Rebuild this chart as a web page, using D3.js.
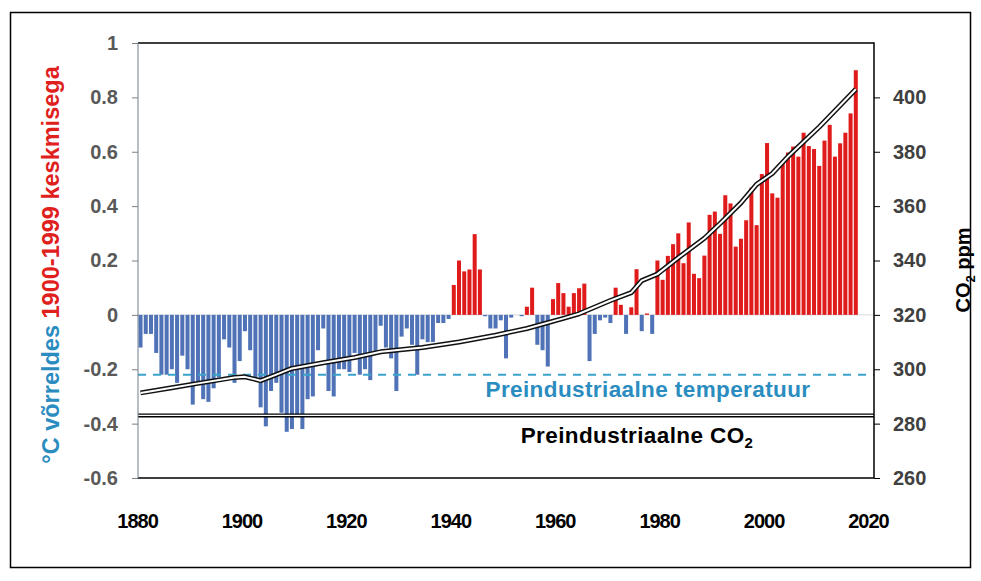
<!DOCTYPE html>
<html>
<head>
<meta charset="utf-8">
<script src="https://cdn.jsdelivr.net/npm/d3@7"></script>
<style>
  body { margin: 0; background: #fff; }
  svg { display: block; }
  text { font-family: "Liberation Sans", Arial, sans-serif; font-weight: bold; }
</style>
</head>
<body>
<svg id="chart" width="981" height="581"></svg>
<script>
// Annual global temperature anomaly (°C vs. 1900-1999 mean), one value per year from firstYear
const firstYear = 1880;
const anomalies = [
  -0.12, -0.07, -0.07, -0.14, -0.22, -0.22, -0.20, -0.25, -0.15, -0.20,   // 1880s
  -0.33, -0.25, -0.31, -0.32, -0.27, -0.23, -0.09, -0.12, -0.25, -0.17,   // 1890s
  -0.06, -0.13, -0.24, -0.34, -0.41, -0.28, -0.25, -0.36, -0.43, -0.42,   // 1900s
  -0.37, -0.42, -0.31, -0.30, -0.13, -0.05, -0.28, -0.30, -0.20, -0.20,   // 1910s
  -0.21, -0.14, -0.22, -0.20, -0.24, -0.14, -0.04, -0.12, -0.16, -0.28,   // 1920s
  -0.08, -0.05, -0.11, -0.22, -0.09, -0.10, -0.10, -0.03, -0.03, -0.015,  // 1930s
   0.11,  0.20,  0.16,  0.167, 0.297, 0.167, -0.005, -0.05, -0.05, -0.02, // 1940s
  -0.16, -0.01,  0.00, -0.005, 0.03,  0.10, -0.11, -0.13, -0.19,  0.058,  // 1950s
   0.117, 0.08,  0.03,  0.08,  0.098, 0.115, -0.17, -0.07, -0.02, -0.01,  // 1960s
  -0.03,  0.10,  0.037, -0.07, 0.028, 0.168, -0.06, 0.005, -0.07, 0.20,   // 1970s
   0.129, 0.217, 0.26,  0.30,  0.19,  0.34,  0.151, 0.135, 0.218, 0.368,  // 1980s
   0.38,  0.298, 0.44,  0.41,  0.251, 0.28,  0.348, 0.468, 0.33,  0.518,  // 1990s
   0.632, 0.447, 0.431, 0.56,  0.597, 0.619, 0.582, 0.67,  0.621, 0.61,   // 2000s
   0.548, 0.641, 0.699, 0.582, 0.631, 0.67,  0.741, 0.90                  // 2010s
];

// Atmospheric CO2 concentration (ppm)
const co2Years  = [1880, 1886, 1891, 1898, 1900, 1903, 1906, 1909, 1915, 1921, 1926, 1934, 1941, 1948, 1954,
                   1961, 1964, 1970, 1974, 1976, 1979, 1983, 1988, 1991, 1995, 1998, 2001, 2004, 2010, 2017];
const co2Values = [291.3, 293.2, 294.8, 297.0, 297.2, 295.8, 298.0, 300.3, 302.4, 304.3, 306.4, 308.0, 310.0, 312.5, 315.0,
                   318.7, 320.4, 325.3, 328.2, 332.6, 335.0, 341.0, 348.2, 353.6, 361.2, 368.0, 372.0, 378.2, 389.1, 403.0];

// Reference levels
const preindustrialTemp = -0.22;
const preindustrialCO2 = 283;

// Axis ticks
const yearTicks = [1880, 1900, 1920, 1940, 1960, 1980, 2000, 2020];
const tempTicks = [-0.6, -0.4, -0.2, 0, 0.2, 0.4, 0.6, 0.8, 1];
const co2Ticks  = [260, 280, 300, 320, 340, 360, 380, 400];

const svg = d3.select("#chart");
const plot = { left: 138, right: 874, top: 43, bottom: 478 };
const FONT = '"Liberation Sans", Arial, sans-serif';

// outer frame
svg.append("rect")
  .attr("x", 10.5).attr("y", 12.5).attr("width", 960).attr("height", 555)
  .attr("fill", "#fff").attr("stroke", "#000").attr("stroke-width", 1.5);

const x = d3.scaleBand()
  .domain(d3.range(yearTicks[0], yearTicks[yearTicks.length - 1] + 1))
  .range([plot.left, plot.right])
  .paddingInner(0.23)
  .paddingOuter(0.1);
const half = x.bandwidth() / 2;
const xc = year => x(year) + half;

const yT = d3.scaleLinear().domain([-0.6, 1]).range([plot.bottom, plot.top]);
const yC = d3.scaleLinear().domain([260, 420]).range([plot.bottom, plot.top]);

// zero line
svg.append("line")
  .attr("x1", plot.left).attr("x2", plot.right)
  .attr("y1", yT(0)).attr("y2", yT(0))
  .attr("stroke", "#d9d9d9").attr("stroke-width", 1);

// temperature bars
const bars = anomalies.map((v, i) => ({ year: firstYear + i, value: v }));
svg.append("g").selectAll("rect")
  .data(bars)
  .join("rect")
  .attr("x", d => x(d.year))
  .attr("width", x.bandwidth())
  .attr("y", d => yT(Math.max(0, d.value)))
  .attr("height", d => Math.abs(yT(d.value) - yT(0)))
  .attr("fill", d => d.value >= 0 ? "#e01b1b" : "#4f73b6");

// preindustrial temperature (dashed)
svg.append("line")
  .attr("x1", plot.left).attr("x2", plot.right)
  .attr("y1", yT(preindustrialTemp)).attr("y2", yT(preindustrialTemp))
  .attr("stroke", "#3aa3cc").attr("stroke-width", 2)
  .attr("stroke-dasharray", "8,7");

// preindustrial CO2 (double line)
[["#000", 4], ["#fff", 1.2]].forEach(([c, w]) => {
  svg.append("line")
    .attr("x1", plot.left).attr("x2", plot.right)
    .attr("y1", yC(preindustrialCO2)).attr("y2", yC(preindustrialCO2))
    .attr("stroke", c).attr("stroke-width", w);
});

// CO2 curve (double line)
const co2 = co2Years.map((yr, i) => ({ year: yr, ppm: co2Values[i] }));
const line = d3.line().x(d => xc(d.year)).y(d => yC(d.ppm));
[["#111", 5], ["#fff", 2]].forEach(([c, w]) => {
  svg.append("path").datum(co2)
    .attr("d", line).attr("fill", "none")
    .attr("stroke", c).attr("stroke-width", w)
    .attr("stroke-linejoin", "round");
});

// plot frame
svg.append("path")
  .attr("d", `M${plot.left},${plot.top}H${plot.right}V${plot.bottom}H${plot.left}`)
  .attr("fill", "none").attr("stroke", "#000").attr("stroke-width", 1.5);
svg.append("line")
  .attr("x1", plot.left).attr("x2", plot.left)
  .attr("y1", plot.top).attr("y2", plot.bottom)
  .attr("stroke", "#6f7f8f").attr("stroke-width", 1);

// left axis
const leftAxis = d3.axisLeft(yT).tickValues(tempTicks).tickSize(6).tickPadding(14)
  .tickFormat(d => String(+d.toFixed(1)));
const gl = svg.append("g").attr("transform", `translate(${plot.left},0)`).call(leftAxis);
gl.select(".domain").remove();
gl.selectAll(".tick line").attr("stroke", "#7f7f7f");
gl.selectAll(".tick text").attr("fill", "#595959").style("font-size", "20px")
  .style("font-family", FONT).style("font-weight", "bold");

// right axis
const rightAxis = d3.axisRight(yC).tickValues(co2Ticks).tickSize(6).tickPadding(13);
const gr = svg.append("g").attr("transform", `translate(${plot.right},0)`).call(rightAxis);
gr.select(".domain").remove();
gr.selectAll(".tick line").attr("stroke", "#000");
gr.selectAll(".tick text").attr("fill", "#404040").style("font-size", "20px")
  .style("font-family", FONT).style("font-weight", "bold");

// year labels
svg.append("g").selectAll("text")
  .data(yearTicks)
  .join("text")
  .attr("x", d => xc(d) - 3)
  .attr("y", 528)
  .attr("text-anchor", "middle")
  .style("font-size", "20px")
  .style("letter-spacing", "-1px")
  .attr("fill", "#000")
  .text(d => d);

// reference labels
svg.append("text")
  .attr("x", 648).attr("y", 397)
  .attr("text-anchor", "middle")
  .attr("fill", "#2b8cbf")
  .style("font-size", "22.5px")
  .style("letter-spacing", "0.4px")
  .text("Preindustriaalne temperatuur");

const lbl = svg.append("text")
  .attr("x", 637).attr("y", 443)
  .attr("text-anchor", "middle")
  .attr("fill", "#000")
  .style("font-size", "22.5px")
  .style("letter-spacing", "0.4px");
lbl.append("tspan").text("Preindustriaalne CO");
lbl.append("tspan").attr("dy", 5).style("font-size", "15px").text("2");

// left axis title
const lt = svg.append("text")
  .attr("transform", "translate(59,265) rotate(-90)")
  .attr("text-anchor", "middle")
  .style("font-size", "23.5px");
lt.append("tspan").attr("fill", "#2b8cbf").text("°C võrreldes ");
lt.append("tspan").attr("fill", "#e0201c").text("1900-1999 keskmisega");

// right axis title
const rt = svg.append("text")
  .attr("transform", "translate(970,270) rotate(-90)")
  .attr("text-anchor", "middle")
  .attr("fill", "#000")
  .style("font-size", "20px");
rt.append("tspan").text("CO");
rt.append("tspan").attr("dy", 5).style("font-size", "13px").text("2");
rt.append("tspan").attr("dy", -5).text(" ppm");
</script>
</body>
</html>
